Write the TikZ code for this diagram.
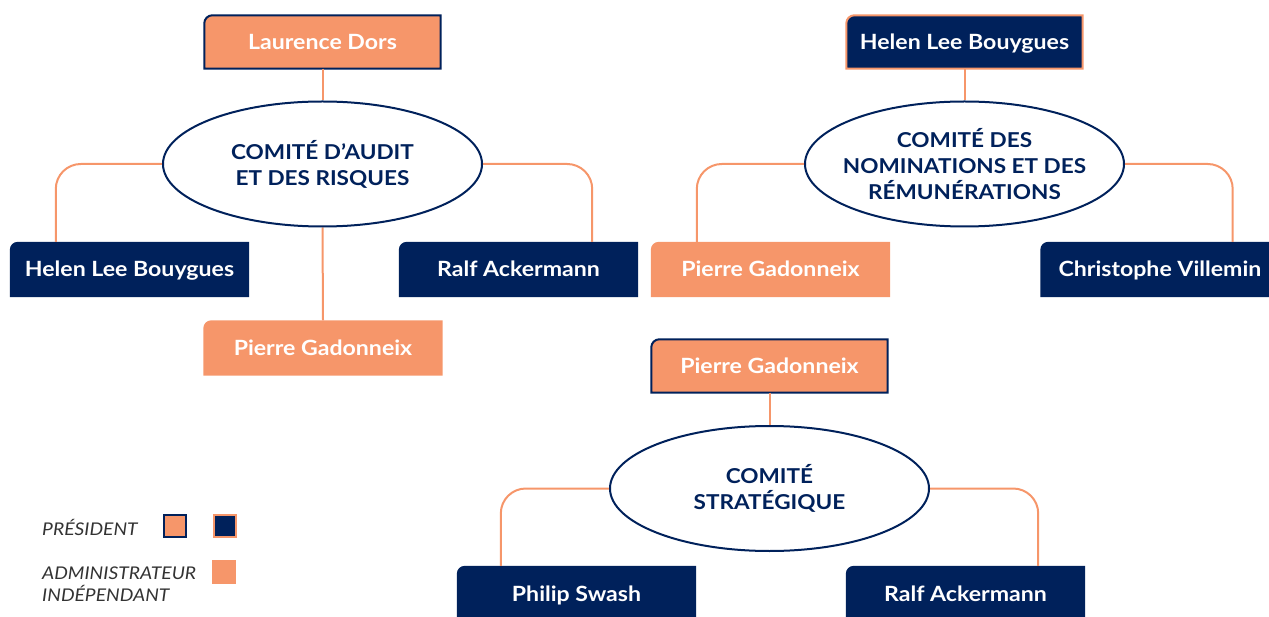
\documentclass[tikz,border=0pt]{standalone}
\usepackage{fontspec}
\setmainfont{Lato}[FakeStretch=1.1]
\usetikzlibrary{shapes.geometric,backgrounds,calc}
\definecolor{navy}{HTML}{00215B}
\definecolor{orng}{HTML}{F6966A}
\definecolor{legtxt}{HTML}{333333}
\newcommand\tlbox[3]{\path[fill=#2,draw=#3,line width=2pt,line join=miter]
  (#1.south west) -- ([yshift=-8pt]#1.north west) arc[start angle=180,end angle=90,radius=8pt]
  -- (#1.north east) -- (#1.south east) -- cycle;}
\begin{document}
\begin{tikzpicture}[x=1pt,y=-1pt,
  box/.style={rectangle,minimum width=239pt,minimum height=55pt,inner sep=0pt,text=white,
    text height=15pt,text depth=0pt,
    font=\bfseries\fontsize{21}{24}\selectfont},
  pbox/.style={box,minimum width=236pt,minimum height=53pt},
  comite/.style={ellipse,draw=navy,line width=2pt,fill=white,minimum width=319pt,minimum height=125pt,
    inner xsep=-20pt,inner ysep=0pt,text=navy,align=center,font=\bfseries\fontsize{20.5}{26}\selectfont},
  conn/.style={draw=orng,line width=2pt},
  rconn/.style={conn,rounded corners=25pt},
  leg/.style={anchor=west,inner sep=0pt,text=legtxt,font=\itshape\fontsize{17.5}{22}\selectfont,align=left},
  legsq/.style={minimum width=22pt,minimum height=22pt,inner sep=0pt,line width=2pt}]
\useasboundingbox (0,0) rectangle (1269,617);
% ---- Comité d'audit et des risques
\node[pbox] (ld) at (322.5,42) {Laurence Dors};
\node[comite] (e1) at (322.5,164) {COMITÉ D’AUDIT\\ET DES RISQUES};
\node[box] (hl1) at (129.5,269.5) {Helen Lee Bouygues};
\node[box] (ra1) at (518.5,269.5) {Ralf Ackermann};
\node[box] (pg1) at (323,348) {Pierre Gadonneix};
% ---- Comité des nominations
\node[pbox] (hl2) at (964.5,42) {Helen Lee Bouygues};
\node[comite] (e2) at (964.5,164) {COMITÉ DES\\NOMINATIONS ET DES\\RÉMUNÉRATIONS};
\node[box] (pg2) at (770.5,269.5) {Pierre Gadonneix};
\node[box] (cv) at (1160,269.5) {Christophe Villemin};
% ---- Comité stratégique
\node[pbox] (pg3) at (769.5,366) {Pierre Gadonneix};
\node[comite] (e3) at (769.5,488.5) {COMITÉ\\STRATÉGIQUE};
\node[box] (ps) at (576.5,593.5) {Philip Swash};
\node[box] (ra3) at (965.5,593.5) {Ralf Ackermann};
% ---- legend
\node[leg] (lp) at (42,527) {PRÉSIDENT};
\node[legsq,fill=orng,draw=navy] (sq1) at (175,526) {};
\node[legsq,fill=navy,draw=orng] (sq2) at (225,526) {};
\node[leg] (la) at (42,584) {ADMINISTRATEUR\\INDÉPENDANT};
\node[legsq,fill=orng,minimum width=24pt,minimum height=24pt] (sq3) at (224,571.5) {};
% ---- backgrounds
\begin{pgfonlayer}{background}
\tlbox{ld}{orng}{navy}
\tlbox{hl2}{navy}{orng}
\tlbox{pg3}{orng}{navy}
\tlbox{hl1}{navy}{none}
\tlbox{ra1}{navy}{none}
\tlbox{pg1}{orng}{none}
\tlbox{pg2}{orng}{none}
\tlbox{cv}{navy}{none}
\tlbox{ps}{navy}{none}
\tlbox{ra3}{navy}{none}
\draw[conn] (ld.south) -- (e1.north);
\draw[conn] (e1.south) -- (pg1.north);
\draw[rconn] (e1.west) -| ([xshift=46pt]hl1.north west);
\draw[rconn] (e1.east) -| ([xshift=-46pt]ra1.north east);
\draw[conn] (hl2.south) -- (e2.north);
\draw[rconn] (e2.west) -| ([xshift=46pt]pg2.north west);
\draw[rconn] (e2.east) -| ([xshift=-47pt]cv.north east);
\draw[conn] (pg3.south) -- (e3.north);
\draw[rconn] (e3.west) -| ([xshift=44pt]ps.north west);
\draw[rconn] (e3.east) -| ([xshift=-47pt]ra3.north east);
\end{pgfonlayer}
\end{tikzpicture}
\end{document}
